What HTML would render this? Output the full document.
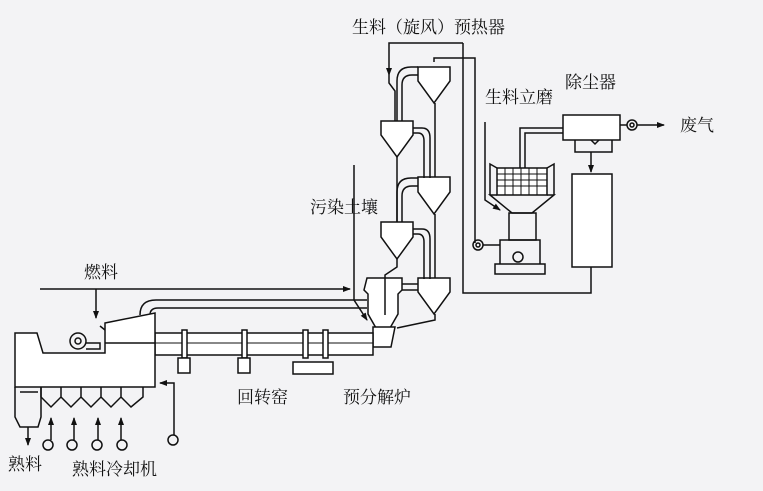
<!DOCTYPE html>
<html><head><meta charset="utf-8"><style>
html,body{margin:0;padding:0;background:#f3f3f5;}
svg{display:block}
text{font-family:"Liberation Serif","Noto Serif CJK SC",serif;fill:#111;font-size:17px}
</style></head><body>
<svg width="763" height="491" viewBox="0 0 763 491" xmlns="http://www.w3.org/2000/svg">
<defs><marker id="a" markerWidth="8" markerHeight="8" refX="7" refY="4" orient="auto" markerUnits="userSpaceOnUse"><path d="M0,1 L8,4 L0,7 Z" fill="#111"/></marker></defs>
<rect width="763" height="491" fill="#f3f3f5"/>
<g stroke="#111" stroke-width="1.5" fill="none">
<polyline points="463,43 389,43 389,75" marker-end="url(#a)"/>
<polyline points="463,43 463,293 591,293 591,267"/>
<polyline points="434,62 434,58 475,58 475,243"/>
<circle cx="478" cy="245" r="5"/><circle cx="478" cy="245" r="2"/>
<line x1="483" y1="245" x2="500" y2="245"/>
<g fill="#fff">
<path d="M418,67 h32 v14 l-16,22 l-16,-22 z"/>
<path d="M381,121 h32 v14 l-16,22 l-16,-22 z"/>
<path d="M418,177 h32 v15 l-16,22 l-16,-22 z"/>
<path d="M381,222 h32 v15 l-16,22 l-16,-22 z"/>
<path d="M418,278 h32 v14 l-16,22 l-16,-22 z"/>
<path d="M367,278 h35 v12 l-4,4 v20 l-8,14 h-14 l-8,-14 v-20 l-4,-4 z"/>
<path d="M373,327 h22 l-4,20 h-18 z"/>
</g>
<path d="M397,121 v-40 q0,-14 14,-14 h7"/><path d="M402,121 v-36 q0,-10 10,-10 h6"/>
<path d="M413,128 h9 q8,0 8,10 v40"/><path d="M413,133 h5 q6,0 6,8 v37"/>
<path d="M397,222 v-30 q0,-14 14,-14 h7"/><path d="M402,222 v-26 q0,-10 10,-10 h6"/>
<path d="M413,229 h9 q8,0 8,10 v40"/><path d="M413,234 h5 q6,0 6,8 v37"/>
<path d="M402,284 h16"/><path d="M402,290 h16"/>
<line x1="435" y1="103" x2="435" y2="177"/><line x1="397" y1="157" x2="397" y2="222"/>
<line x1="435" y1="214" x2="435" y2="278"/>
<path d="M397,259 v8 l-12,8 v40"/><path d="M435,314 v6 l-38,8"/>
<path d="M389,75 v8 l6,8 v30"/>
<rect x="497" y="168" width="50" height="27" fill="#fff"/>
<path d="M497,174 h50 M497,180 h50 M497,186 h50 M505,168 v27 M513,168 v27 M521,168 v27 M529,168 v27 M537,168 v27" stroke-width="1"/>
<path d="M497,195 l-7,0 l22,18 h20 l22,-18 h-7"/>
<path d="M497,168 l-7,-4 v31 M547,168 l7,-4 v31"/>
<rect x="509" y="213" width="27" height="27"/>
<path d="M500,240 h40 v24 h-40 z M495,264 h50 v10 h-50 z"/>
<circle cx="518" cy="257" r="5"/>
<polyline points="520,168 520,128 563,128"/><polyline points="525,168 525,133 563,133"/>
<polyline points="485,122 485,200 500,210" marker-end="url(#a)"/>
<rect x="563" y="115" width="57" height="25" fill="#fff"/>
<path d="M575,140 v12 h37 v-12 M591,140 l4,4 l4,-4"/>
<line x1="591" y1="152" x2="591" y2="172" marker-end="url(#a)"/>
<rect x="572" y="174" width="40" height="93" fill="#fff"/>
<line x1="620" y1="125" x2="627" y2="125"/>
<circle cx="632" cy="125" r="5"/><circle cx="632" cy="125" r="2"/>
<line x1="637" y1="125" x2="664" y2="125" marker-end="url(#a)"/>
<rect x="155" y="333" width="218" height="22" fill="#fff"/>
<line x1="155" y1="343" x2="373" y2="343" stroke-width="1"/>
<g fill="#fff">
<rect x="182" y="330" width="5" height="28"/><rect x="178" y="358" width="12" height="15"/>
<rect x="242" y="330" width="5" height="28"/><rect x="238" y="358" width="12" height="15"/>
<rect x="303" y="330" width="5" height="28"/><rect x="323" y="330" width="5" height="28"/>
<path d="M293,362 h40 v12 h-40 z"/>
</g>
<path d="M140,315 q0,-15 16,-15 h211"/><path d="M150,315 q0,-7 8,-7 h209"/>
<line x1="40" y1="289" x2="350" y2="289" marker-end="url(#a)"/>
<line x1="96" y1="289" x2="96" y2="318" marker-end="url(#a)"/>
<polyline points="354,165 354,300 367,320" marker-end="url(#a)"/>
<path d="M15,333 h22 l6,20 h62 v-30 l50,-10 v74 h-140 z" fill="#fff"/>
<line x1="100" y1="326" x2="105" y2="330"/>
<circle cx="78" cy="341" r="8"/><circle cx="78" cy="341" r="3"/>
<path d="M86,343 h14 v6 h-14"/><line x1="105" y1="343" x2="155" y2="343"/>
<path d="M15,387 v30 l5,10 h18 l3,-10 v-30 M20,392 h18"/>
<path d="M41,387 v10 l10,10 l10,-10 v-10 M61,397 l10,10 l10,-10 v-10 M81,397 l10,10 l10,-10 v-10 M101,397 l10,10 l10,-10 v-10 M121,397 l10,10 l12,-10 v-10"/>
<line x1="28" y1="427" x2="28" y2="445" marker-end="url(#a)"/>
<circle cx="48" cy="445" r="5"/><line x1="51" y1="440" x2="51" y2="418" marker-end="url(#a)"/>
<circle cx="72" cy="445" r="5"/><line x1="74" y1="440" x2="74" y2="418" marker-end="url(#a)"/>
<circle cx="97" cy="445" r="5"/><line x1="98" y1="440" x2="98" y2="418" marker-end="url(#a)"/>
<circle cx="122" cy="445" r="5"/><line x1="121" y1="440" x2="121" y2="418" marker-end="url(#a)"/>
<circle cx="173" cy="440" r="5"/>
<polyline points="174,435 174,383 160,383" marker-end="url(#a)"/>
</g>
<text x="352" y="33">生料（旋风）预热器</text>
<text x="485" y="103">生料立磨</text>
<text x="565" y="88">除尘器</text>
<text x="680" y="131">废气</text>
<text x="310" y="213">污染土壤</text>
<text x="84" y="278">燃料</text>
<text x="237" y="403">回转窑</text>
<text x="343" y="403">预分解炉</text>
<text x="8" y="470">熟料</text>
<text x="72" y="475">熟料冷却机</text>
</svg>
</body></html>
